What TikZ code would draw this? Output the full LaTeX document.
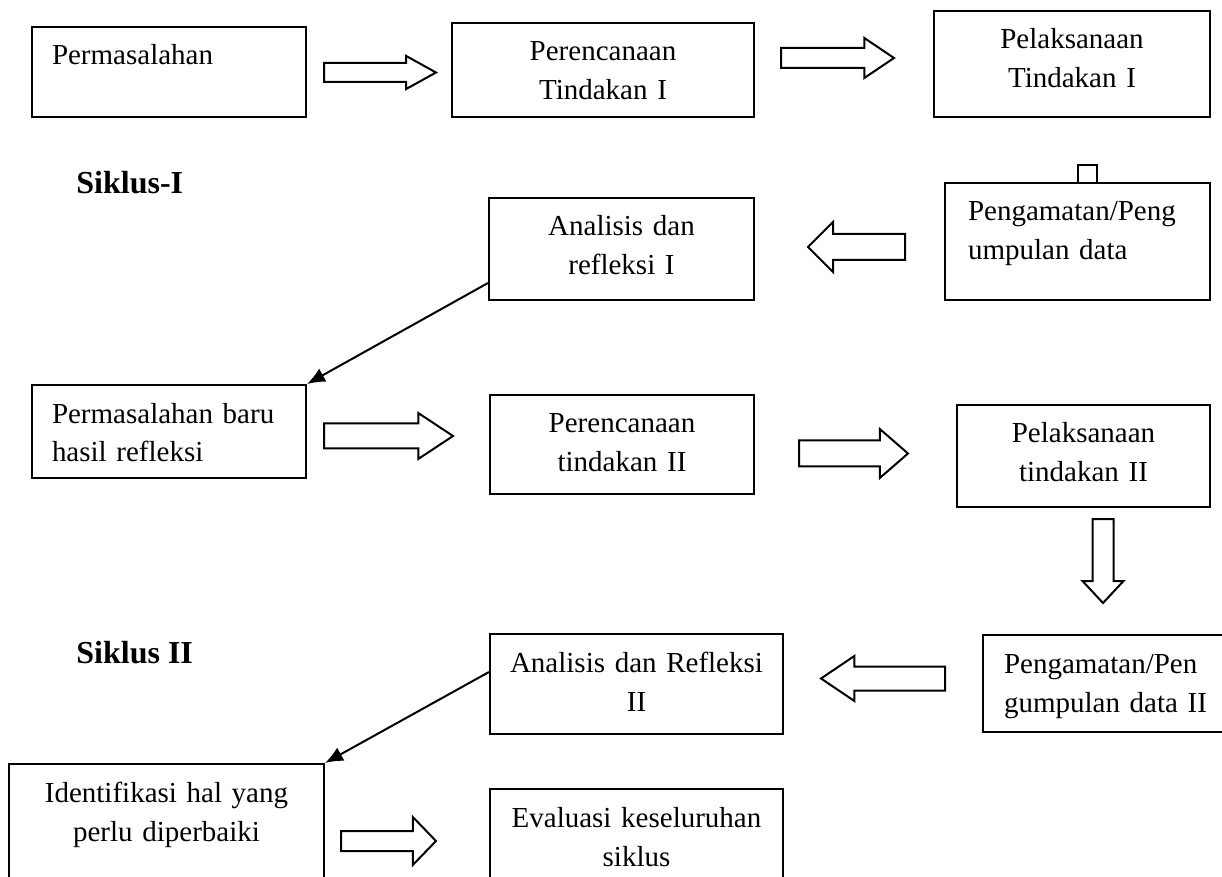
\documentclass[tikz,border=0pt]{standalone}
\usepackage{fontspec}
\setmainfont{Liberation Serif}
\usetikzlibrary{arrows.meta, shapes.arrows}

\tikzset{
  kotak/.style={draw, line width=1pt, anchor=north west, inner sep=0pt, text height=19pt, align=center},
  kiri/.style={align=left, inner xsep=10pt},
  panah/.style args={#1/#2/#3/#4}{shape=single arrow, draw, line width=1pt, anchor=tail, inner sep=0pt,
    inner ysep=#2, minimum height=#1, single arrow head extend=#3, single arrow tip angle=#4},
  judul/.style={anchor=base west, inner sep=0pt, font=\fontsize{16}{19.5}\selectfont\bfseries},
}

\begin{document}
\begin{tikzpicture}[x=0.5pt, y=-0.5pt, >={Latex[length=9pt, width=7.5pt]},
  every node/.style={font=\fontsize{14.5}{19.5}\selectfont}]
\useasboundingbox (0,0) rectangle (1222,877);

% siklus I
\node[kotak, kiri, text width=117pt, text depth=26pt] (masalah) at (31,26) {Permasalahan};
\node[kotak, text width=151pt, text depth=28pt] (renc1) at (451,22) {Perencanaan\\Tindakan I};
\node[kotak, text width=138pt, text depth=34pt] (laks1) at (933,10) {Pelaksanaan\\Tindakan I};
\node[kotak, kiri, inner xsep=11.5pt, text width=109.5pt, text depth=39.5pt] (amat1) at (944,182) {Pengamatan/Peng\\umpulan data};
\node[kotak, text width=132.5pt, text depth=32pt] (anal1) at (488,197) {Analisis dan\\refleksi I};

\node[judul] (sik1) at (76,194) {Siklus-I};

\node[panah=56pt/4.25pt/3.5pt/58] (p1) at (323,72.5) {};
\node[panah=56.5pt/4.5pt/5pt/68] (p2) at (780,58) {};
\node[panah=48.5pt/6pt/6pt/90, shape border rotate=180] (p3) at (906,247) {};

\draw[line width=1pt] ([xshift=67pt]amat1.north west) -- ++(0,-17) -- ++(19,0) -- ++(0,17);

% siklus II
\node[kotak, kiri, text width=117pt, text depth=27.5pt] (baru) at (31,384) {Permasalahan baru\\hasil refleksi};
\node[kotak, text width=132pt, text depth=30.5pt] (renc2) at (489,394) {Perencanaan\\tindakan II};
\node[kotak, text width=126.5pt, text depth=32pt] (laks2) at (956,404) {Pelaksanaan\\tindakan II};
\node[kotak, kiri, inner xsep=10.5pt, text width=105.5pt, text depth=29.5pt] (amat2) at (982,634) {Pengamatan/Pen\\gumpulan data II};
\node[kotak, text width=146.5pt, text depth=31pt] (anal2) at (489,633) {Analisis dan Refleksi\\II};
\node[kotak, text width=157.5pt, text depth=51pt] (ident) at (8,763) {Identifikasi hal yang\\perlu diperbaiki};
\node[kotak, text width=146.5pt, text depth=41pt] (eval) at (489,788) {Evaluasi keseluruhan\\siklus};

\node[judul] (sik2) at (76,663) {Siklus II};

\node[panah=64.5pt/5.75pt/5.25pt/67] (p4) at (323,436) {};
\node[panah=54.5pt/6pt/5.75pt/82] (p5) at (798,453.5) {};
\node[panah=42pt/0pt/5pt/86, inner xsep=4.75pt, shape border rotate=270] (p6) at (1103,518) {};
\node[panah=62pt/5.5pt/5.25pt/68, shape border rotate=180] (p7) at (946,678.5) {};
\node[panah=47.5pt/4.5pt/7pt/92] (p8) at (340,841) {};

\draw[->, line width=1pt] ([yshift=9pt]anal1.south west) -- (baru.north east);
\draw[->, line width=1pt] ([yshift=-19.5pt]anal2.north west) -- (ident.north east);

\end{tikzpicture}
\end{document}
